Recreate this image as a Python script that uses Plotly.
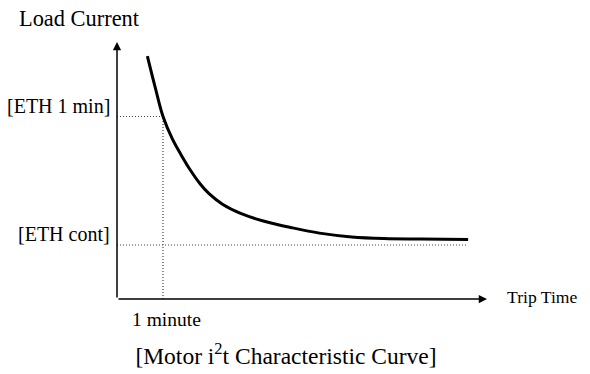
import plotly.graph_objects as go

# Data (relative units: trip time in minutes, current relative to ETH cont)
trip_time = [0.66, 0.83, 1.0, 1.2, 1.4, 1.6, 1.8, 2.0, 2.3, 2.7, 3.2, 3.8, 4.4, 5.1, 5.8, 6.6, 7.63]
load_current = [4.50, 3.92, 3.38, 2.97, 2.66, 2.38, 2.14, 1.95, 1.75, 1.58, 1.44, 1.32, 1.22, 1.15, 1.12, 1.11, 1.10]

eth_1min = 3.38
eth_cont = 1.0
one_minute = 1.0
eth_cont_line_end = 7.61

x_max = 8.04
y_max = 4.76

labels = {
    "y_title": "Load Current",
    "x_title": "Trip Time",
    "eth_1min": "[ETH 1 min]",
    "eth_cont": "[ETH cont]",
    "one_minute": "1 minute",
    "caption": "[Motor i<sup>2</sup>t Characteristic Curve]",
}

FONT = "Liberation Serif, Times New Roman, serif"
# page body has an 8px default margin, so the figure is 8px smaller and offset
W, H = 582, 366
L, R, T, B = 109, 103, 34, 75
PW, PH = W - L - R, H - T - B

fig = go.Figure()

dot_style = dict(color="#444444", width=1.2, dash="1px,2px")

# Dotted guide lines
fig.add_trace(go.Scatter(x=[0, one_minute], y=[eth_1min, eth_1min], mode="lines",
                         line=dot_style, hoverinfo="skip", showlegend=False))
fig.add_trace(go.Scatter(x=[one_minute, one_minute], y=[0, eth_1min], mode="lines",
                         line=dot_style, hoverinfo="skip", showlegend=False))
fig.add_trace(go.Scatter(x=[0, eth_cont_line_end], y=[eth_cont, eth_cont], mode="lines",
                         line=dot_style, hoverinfo="skip", showlegend=False))

# Characteristic curve
fig.add_trace(go.Scatter(x=trip_time, y=load_current, mode="lines",
                         line=dict(color="black", width=3, shape="spline", smoothing=1.0),
                         showlegend=False))

annotations = [
    # axes with arrows
    dict(x=x_max, y=0, ax=0, ay=0, xref="x", yref="y", axref="x", ayref="y",
         showarrow=True, arrowhead=2, arrowsize=1.1, arrowwidth=1.5, arrowcolor="black", text=""),
    dict(x=0, y=y_max, ax=0, ay=0, xref="x", yref="y", axref="x", ayref="y",
         showarrow=True, arrowhead=2, arrowsize=1.1, arrowwidth=1.5, arrowcolor="black", text=""),
    dict(x=0, y=eth_1min, xref="x", yref="y", text=labels["eth_1min"], showarrow=False,
         xanchor="right", yanchor="middle", xshift=-5, yshift=11,
         font=dict(family=FONT, size=20, color="black")),
    dict(x=0, y=eth_cont, xref="x", yref="y", text=labels["eth_cont"], showarrow=False,
         xanchor="right", yanchor="middle", xshift=-5, yshift=11,
         font=dict(family=FONT, size=20, color="black")),
    dict(x=one_minute, y=0, xref="x", yref="y", text=labels["one_minute"], showarrow=False,
         xanchor="center", yanchor="middle", xshift=3, yshift=-20,
         font=dict(family=FONT, size=19.5, color="black")),
    dict(x=x_max, y=0, xref="x", yref="y", text=labels["x_title"], showarrow=False,
         xanchor="left", yanchor="middle", xshift=18, yshift=2,
         font=dict(family=FONT, size=17.6, color="black")),
    dict(x=(17 - 117) / PW, y=(299 - 18) / PH, xref="paper", yref="paper",
         text=labels["y_title"], showarrow=False, xanchor="left", yanchor="middle",
         font=dict(family=FONT, size=22.4, color="black")),
]

fig.update_layout(
    width=W, height=H,
    margin=dict(l=L, r=R, t=T, b=B, pad=0),
    paper_bgcolor="white", plot_bgcolor="white",
    xaxis=dict(range=[0, x_max], visible=False, showgrid=False, zeroline=False),
    yaxis=dict(range=[0, y_max], visible=False, showgrid=False, zeroline=False),
    annotations=annotations,
    title=dict(text=labels["caption"], x=278 / W, y=1 - 348 / H, xref="container", yref="container",
               xanchor="center", yanchor="middle",
               font=dict(family=FONT, size=23.5, color="black")),
    showlegend=False,
)

fig.write_html("out.html")
